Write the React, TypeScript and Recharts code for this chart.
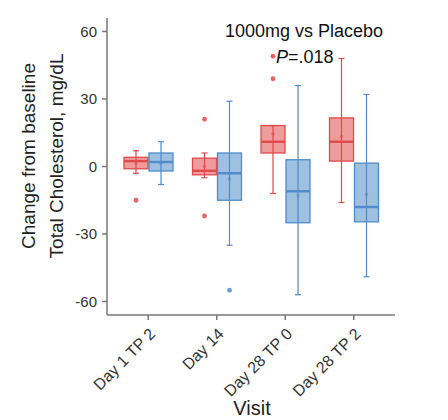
import { ComposedChart, Bar, XAxis, YAxis } from 'recharts'

const visits = ['Day 1 TP 2', 'Day 14', 'Day 28 TP 0', 'Day 28 TP 2']

// 1000mg
const doseLow = [-3, -5, -12, -16]
const doseQ1 = [-1, -3.7, 6, 2.4]
const doseMedian = [2.4, -1.9, 11, 11]
const doseQ3 = [4.1, 3.7, 18.2, 21.6]
const doseHigh = [7, 6, 18.2, 48]
const doseMean = [1.2, 0, 14.5, 13.3]
const doseOutliers = [[-15], [21, -22], [49, 39], []]

// placebo
const placeboLow = [-8, -35, -57, -49]
const placeboQ1 = [-2, -15, -25, -24.6]
const placeboMedian = [2, -3, -11, -18]
const placeboQ3 = [6, 6, 3, 1.5]
const placeboHigh = [11, 29, 36, 32]
const placeboMean = [1.5, -5.5, -13, -12.4]
const placeboOutliers = [[], [-55], [], []]

const yTicks = [-60, -30, 0, 30, 60]

const RED = '#e04a4a'
const BLUE = '#4f8cc9'
const FONT = '"Liberation Sans", Arial, sans-serif'

const rows = visits.map((visit, i) => ({
  visit,
  dose: { low: doseLow[i], q1: doseQ1[i], median: doseMedian[i], q3: doseQ3[i], high: doseHigh[i], mean: doseMean[i], outliers: doseOutliers[i] },
  placebo: { low: placeboLow[i], q1: placeboQ1[i], median: placeboMedian[i], q3: placeboQ3[i], high: placeboHigh[i], mean: placeboMean[i], outliers: placeboOutliers[i] },
}))

function BoxShape(props: any) {
  const { x, y, width, height, stats, color } = props
  const top = Math.min(y, y + height)
  const h = Math.abs(height)
  // the bar spans low..high, so map values through its pixel extent
  const py = (v: number) => top + ((stats.high - v) / (stats.high - stats.low)) * h
  const cx = x + width / 2
  const cap = 3
  return (
    <g>
      <line x1={cx} x2={cx} y1={py(stats.high)} y2={py(stats.low)} stroke={color} strokeWidth={1.2} />
      <line x1={cx - cap} x2={cx + cap} y1={py(stats.high)} y2={py(stats.high)} stroke={color} strokeWidth={1.2} />
      <line x1={cx - cap} x2={cx + cap} y1={py(stats.low)} y2={py(stats.low)} stroke={color} strokeWidth={1.2} />
      <rect
        x={x}
        y={py(stats.q3)}
        width={width}
        height={py(stats.q1) - py(stats.q3)}
        fill={color}
        fillOpacity={0.55}
        stroke={color}
        strokeWidth={1.3}
      />
      <line x1={x} x2={x + width} y1={py(stats.median)} y2={py(stats.median)} stroke={color} strokeWidth={2.4} />
      <circle cx={cx} cy={py(stats.mean)} r={1.8} fill={color} fillOpacity={0.5} />
      {stats.outliers.map((v: number, k: number) => (
        <circle key={k} cx={cx} cy={py(v)} r={2.4} fill={color} fillOpacity={0.85} />
      ))}
    </g>
  )
}

function VisitTick(props: any) {
  const { x, y, payload } = props
  const ax = x + 8
  const ay = y + 15
  return (
    <text x={ax} y={ay} transform={`rotate(-45 ${ax} ${ay})`} textAnchor="end" fontSize={16} fill="#333" fontFamily={FONT}>
      {payload.value}
    </text>
  )
}

export default function App() {
  return (
    <ComposedChart
      width={440}
      height={412}
      data={rows}
      margin={{ top: 10, right: 53, bottom: 15, left: 0 }}
      barGap={1}
      style={{ fontFamily: FONT }}
    >
      <XAxis
        dataKey="visit"
        height={90}
        padding={{ left: 7, right: 7 }}
        tick={<VisitTick />}
        tickSize={5}
        tickMargin={0}
        interval={0}
        stroke="#777"
        strokeWidth={1.5}
      />
      <YAxis
        domain={[-66, 66]}
        ticks={yTicks}
        width={99}
        tickSize={5}
        tickMargin={5}
        tick={{ fontSize: 15, fill: '#333', fontFamily: FONT }}
        stroke="#777"
        strokeWidth={1.5}
        allowDataOverflow
      />
      <Bar
        dataKey={(d: any) => [d.dose.low, d.dose.high]}
        barSize={24}
        isAnimationActive={false}
        shape={(p: any) => <BoxShape {...p} stats={p.payload.dose} color={RED} />}
      />
      <Bar
        dataKey={(d: any) => [d.placebo.low, d.placebo.high]}
        barSize={24}
        isAnimationActive={false}
        shape={(p: any) => <BoxShape {...p} stats={p.payload.placebo} color={BLUE} />}
      />
      <text x={27} y={148} transform="rotate(-90 27 148)" textAnchor="middle" fontSize={19} fill="#222" fontFamily={FONT}>
        Change from baseline
      </text>
      <text x={55} y={148} transform="rotate(-90 55 148)" textAnchor="middle" fontSize={19} fill="#222" fontFamily={FONT}>
        Total Cholesterol, mg/dL
      </text>
      <text x={244} y={407} textAnchor="middle" fontSize={20} fill="#222" fontFamily={FONT}>
        Visit
      </text>
      <text x={296} y={29} textAnchor="middle" fontSize={18} fill="#111" fontFamily={FONT}>
        1000mg vs Placebo
      </text>
      <text x={268} y={55} fontSize={18} fill="#111" fontFamily={FONT}>
        <tspan fontStyle="italic">P</tspan>=.018
      </text>
    </ComposedChart>
  )
}
